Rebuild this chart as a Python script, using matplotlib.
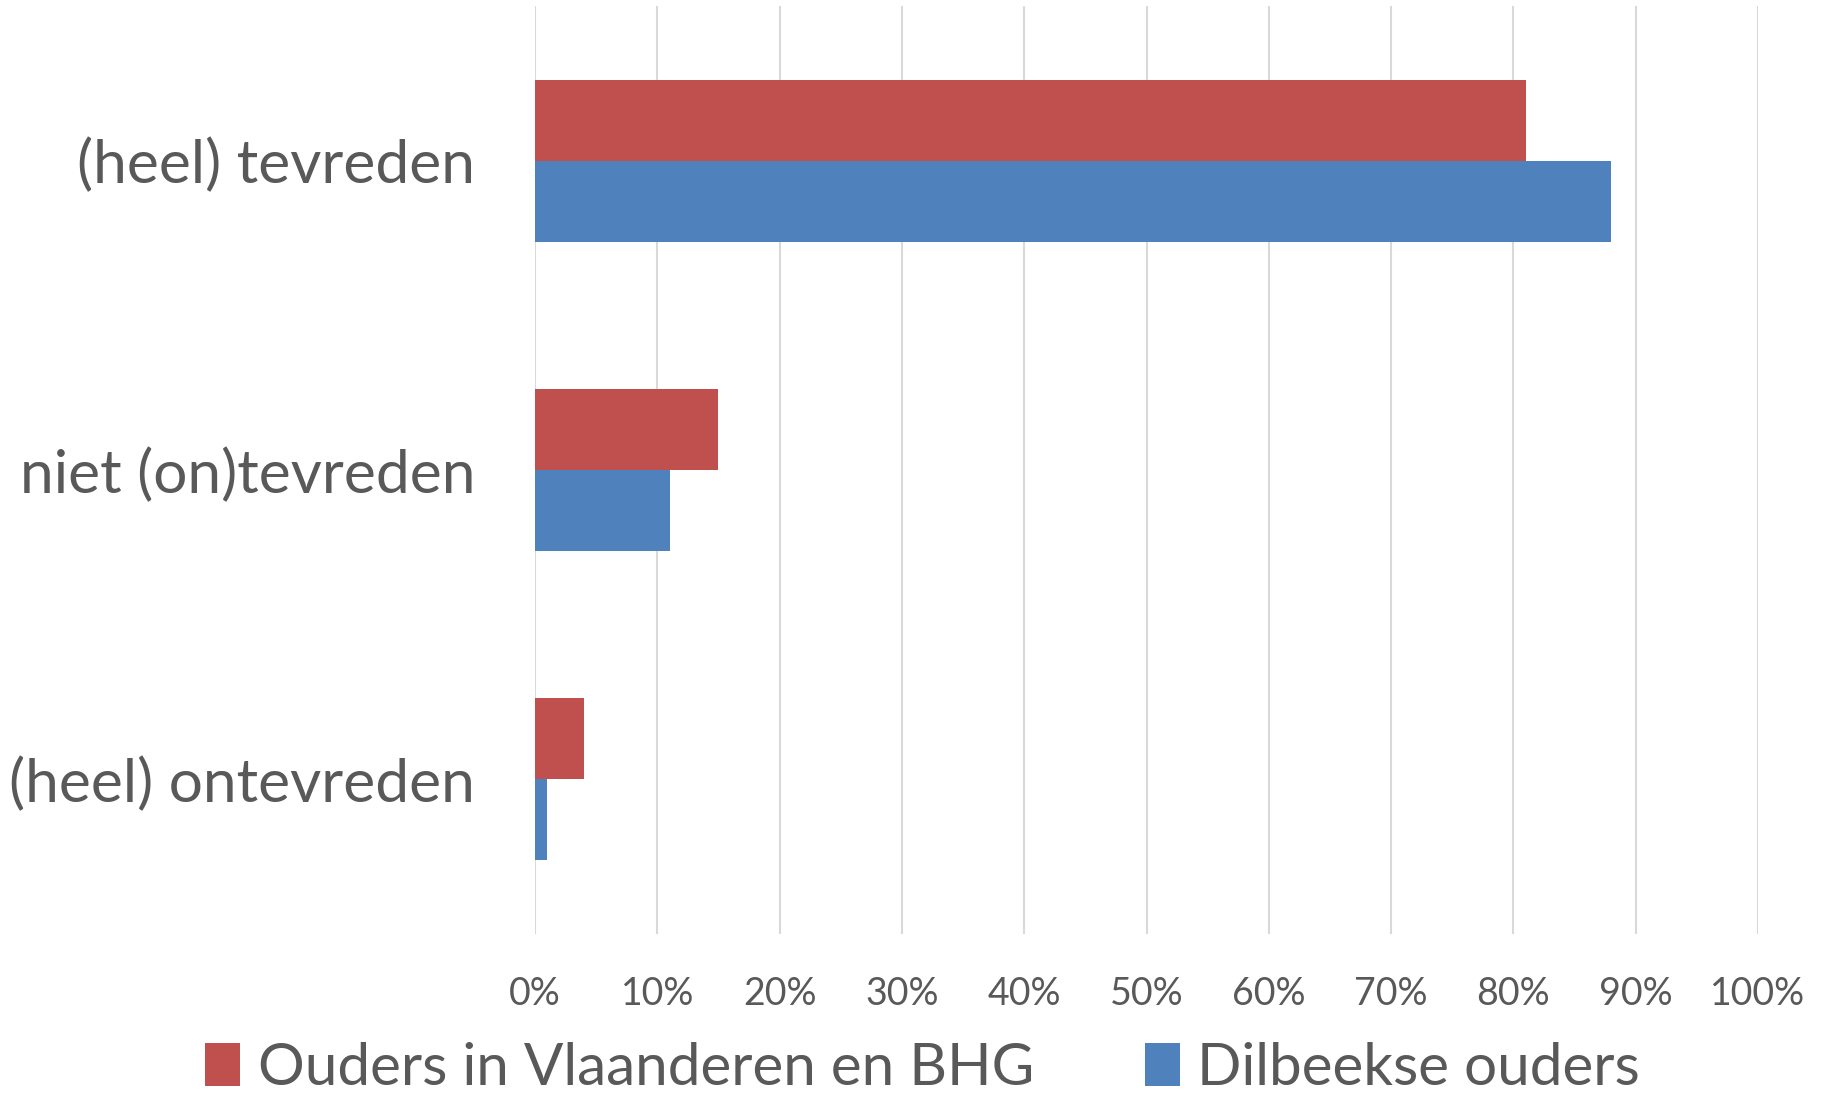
import matplotlib
matplotlib.use('Agg')
import matplotlib.pyplot as plt
import numpy as np

categories = ['(heel) tevreden', 'niet (on)tevreden', '(heel) ontevreden']
series_names = ['Ouders in Vlaanderen en BHG', 'Dilbeekse ouders']
vlaanderen = [81, 15, 4]
dilbeek = [88, 11, 1]
tick_values = list(range(0, 101, 10))
tick_labels = [f'{v}%' for v in tick_values]

red = '#C0504D'
blue = '#4F81BD'
grey_text = '#595959'

plt.rcParams['font.family'] = ['Lato', 'DejaVu Sans']

fig = plt.figure(figsize=(18.27, 11.0), dpi=100)
ax = fig.add_axes([535 / 1827, 1 - 934 / 1100, (1758 - 535) / 1827, (934 - 6) / 1100])

y = np.arange(len(categories))[::-1]
h = 0.262
ax.barh(y + h / 2, vlaanderen, height=h, color=red, label=series_names[0], zorder=3)
ax.barh(y - h / 2, dilbeek, height=h, color=blue, label=series_names[1], zorder=3)

ax.set_xlim(0, 100)
ax.set_ylim(-0.5, 2.5)
ax.set_xticks(tick_values)
ax.set_xticklabels(tick_labels, fontsize=27, color=grey_text)
ax.set_yticks(y)
ax.set_yticklabels(categories, fontsize=43.5, color=grey_text)
ax.tick_params(axis='both', length=0)
ax.tick_params(axis='x', pad=30)
ax.tick_params(axis='y', pad=43)
ax.grid(axis='x', color='#d9d9d9', linewidth=1.5, zorder=0)
for s in ax.spines.values():
    s.set_visible(False)

fig.legend(loc='lower center', bbox_to_anchor=(0.505, -0.043), ncol=2, frameon=False,
           fontsize=42, labelcolor=grey_text, handlelength=0.6, handleheight=0.75,
           handletextpad=0.3, columnspacing=1.9)

fig.savefig('out.png', dpi=100)
